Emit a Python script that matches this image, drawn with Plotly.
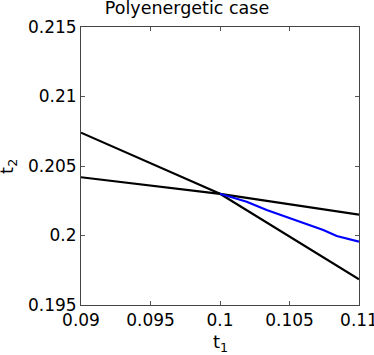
import plotly.graph_objects as go

# bounds (piecewise linear, kink at the crossing point)
t1_lines = [0.09, 0.1, 0.11]
bound_steep = [0.2074, 0.2030, 0.19685]
bound_flat = [0.20419, 0.2030, 0.2015]

# polyenergetic solution path
t1_poly = [0.1, 0.10192, 0.10336, 0.1048, 0.10624, 0.10743, 0.1084, 0.1092, 0.11]
t2_poly = [0.2030, 0.20243, 0.20183, 0.20131, 0.20081, 0.2004, 0.19996, 0.19975, 0.19955]

xticks = [0.09, 0.095, 0.1, 0.105, 0.11]
xlabels = ["0.09", "0.095", "0.1", "0.105", "0.11"]
yticks = [0.195, 0.2, 0.205, 0.21, 0.215]
ylabels = ["0.195", "0.2", "0.205", "0.21", "0.215"]

fig = go.Figure()
fig.add_trace(go.Scatter(x=t1_lines, y=bound_steep, mode="lines",
                         line=dict(color="black", width=2.2)))
fig.add_trace(go.Scatter(x=t1_lines, y=bound_flat, mode="lines",
                         line=dict(color="black", width=2.2)))
fig.add_trace(go.Scatter(x=t1_poly, y=t2_poly, mode="lines",
                         line=dict(color="#0000ff", width=2.2)))

axis = dict(showgrid=False, zeroline=False, ticks="inside", ticklen=4,
            tickcolor="#555", showline=True, linecolor="#444", linewidth=1,
            mirror="allticks", tickfont=dict(size=17, color="black"),
            automargin=False, ticklabeloverflow="allow")

fig.update_layout(
    width=374, height=355,
    margin=dict(l=81, r=15, t=27, b=50),
    paper_bgcolor="white", plot_bgcolor="white",
    font=dict(family="DejaVu Sans", color="black"),
    showlegend=False,
    title=dict(text="Polyenergetic case", x=0.5, xanchor="center",
               yref="container", y=0.977, yanchor="middle",
               font=dict(size=17.5)),
    xaxis=dict(axis, range=[0.09, 0.11], tickvals=xticks, ticktext=xlabels),
    yaxis=dict(axis, range=[0.195, 0.215], tickvals=yticks, ticktext=ylabels),
)

# axis labels
fig.add_annotation(text="t<sub>1</sub>", xref="paper", yref="paper",
                   x=0.5, y=-0.137, xanchor="center", yanchor="middle",
                   showarrow=False, font=dict(size=18))
fig.add_annotation(text="t<sub>2</sub>", xref="paper", yref="paper",
                   x=-0.263, y=0.5, xanchor="center", yanchor="middle",
                   textangle=-90, showarrow=False, font=dict(size=18))

fig.write_html("out.html", config={"displayModeBar": False},
               post_script="document.body.style.margin='0';")
